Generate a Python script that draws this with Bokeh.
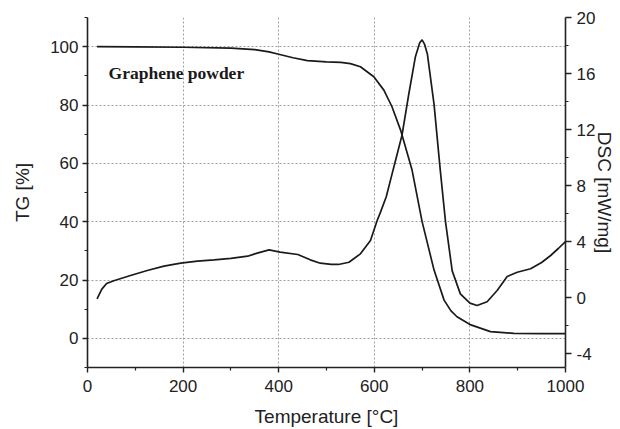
from bokeh.plotting import figure
from bokeh.models import Range1d, LinearAxis, FixedTicker, Label, PrintfTickFormatter
from bokeh.embed import file_html
from bokeh.resources import INLINE

# TG curve (left axis, %)
tg_temp = [20, 100, 200, 300, 350, 380, 400, 430, 460, 500, 530, 550, 571, 599,
           620, 637, 655, 679, 700, 725, 746, 760, 773, 802, 843, 892, 950, 1000]
tg_vals = [100, 99.9, 99.8, 99.5, 99.0, 98.2, 97.4, 96.2, 95.2, 94.8, 94.6, 94.2, 93.1, 89.7,
           85.1, 79.4, 71.4, 57.7, 40.0, 23.4, 13.1, 9.5, 7.4, 4.6, 2.3, 1.7, 1.6, 1.6]

# DSC curve (right axis, mW/mg)
dsc_temp = [20, 30, 40, 55, 90, 125, 160, 195, 230, 265, 300, 335, 355, 380, 403, 440, 466, 487,
            510, 525, 547, 571, 592, 606, 613, 625, 634, 646, 658, 672, 686, 695, 700, 705, 711,
            725, 738, 749, 763, 780, 800, 815, 836, 857, 878, 899, 927, 950, 969, 985, 1000]
dsc_vals = [-0.1, 0.6, 1.0, 1.2, 1.57, 1.93, 2.24, 2.45, 2.6, 2.69, 2.8, 2.95, 3.17, 3.4, 3.24, 3.07,
            2.69, 2.45, 2.36, 2.36, 2.52, 3.12, 4.07, 5.5, 6.1, 7.2, 8.4, 10.0, 11.6, 14.5, 17.2, 18.2,
            18.4, 18.1, 17.4, 13.8, 9.1, 5.4, 1.9, 0.26, -0.4, -0.57, -0.3, 0.5, 1.5, 1.8, 2.05, 2.5,
            3.0, 3.5, 4.0]

x_ticks = [0, 200, 400, 600, 800, 1000]
x_minor = [100, 300, 500, 700, 900]
tg_ticks = [0, 20, 40, 60, 80, 100]
tg_minor = [-10, 10, 30, 50, 70, 90, 110]
dsc_ticks = [-4, 0, 4, 8, 12, 16, 20]
dsc_minor = [-2, 2, 6, 10, 14, 18]

FONT = "Liberation Sans"

p = figure(width=620, height=429, output_backend="svg", toolbar_location=None,
           x_range=Range1d(0, 1000), y_range=Range1d(-10, 110),
           min_border_left=87, min_border_right=55, min_border_top=17, min_border_bottom=62)
p.outline_line_color = None
p.background_fill_color = "white"
p.border_fill_color = "white"
p.extra_y_ranges = {"dsc": Range1d(-5, 20)}

def style_axis(ax):
    ax.axis_line_color = "#222222"
    ax.axis_line_width = 1.6
    ax.major_tick_line_color = "#222222"
    ax.major_tick_line_width = 1.4
    ax.minor_tick_line_color = "#222222"
    ax.minor_tick_line_width = 1.2
    ax.major_tick_out = 5
    ax.major_tick_in = 0
    ax.minor_tick_out = 3
    ax.minor_tick_in = 0
    ax.major_label_text_font = FONT
    ax.major_label_text_font_size = "17px"
    ax.major_label_text_color = "#222222"
    ax.axis_label_text_font = FONT
    ax.axis_label_text_font_size = "19px"
    ax.axis_label_text_font_style = "normal"
    ax.axis_label_text_color = "#222222"
    ax.formatter = PrintfTickFormatter(format="%d")

xax = p.xaxis[0]
xax.ticker = FixedTicker(ticks=x_ticks, minor_ticks=x_minor)
xax.axis_label = "Temperature [°C]"
style_axis(xax)
xax.major_label_standoff = 7
xax.axis_label_standoff = 11

yax = p.yaxis[0]
yax.ticker = FixedTicker(ticks=tg_ticks, minor_ticks=tg_minor)
yax.axis_label = "TG [%]"
style_axis(yax)
yax.major_label_standoff = 4
yax.axis_label_standoff = 14

rax = LinearAxis(y_range_name="dsc", axis_label="DSC [mW/mg]",
                 ticker=FixedTicker(ticks=dsc_ticks, minor_ticks=dsc_minor))
style_axis(rax)
rax.major_tick_out = 6
rax.major_label_standoff = 5
rax.axis_label_standoff = -4
p.add_layout(rax, "right")

p.xgrid.ticker = FixedTicker(ticks=[200, 400, 600, 800])
p.ygrid.ticker = FixedTicker(ticks=tg_ticks)
for g in (p.xgrid[0], p.ygrid[0]):
    g.grid_line_color = "#a0a0a0"
    g.grid_line_dash = "2 2"
    g.grid_line_width = 1

p.line(tg_temp, tg_vals, line_color="#1a1a1a", line_width=1.7)
p.line(dsc_temp, dsc_vals, line_color="#1a1a1a", line_width=1.7, y_range_name="dsc")

p.add_layout(Label(x=44, y=91, text="Graphene powder", text_font="Liberation Serif",
                   text_font_style="bold", text_font_size="17.5px", text_color="#1a1a1a",
                   text_baseline="middle", text_align="left"))

open("out.html", "w").write(file_html(p, INLINE))
